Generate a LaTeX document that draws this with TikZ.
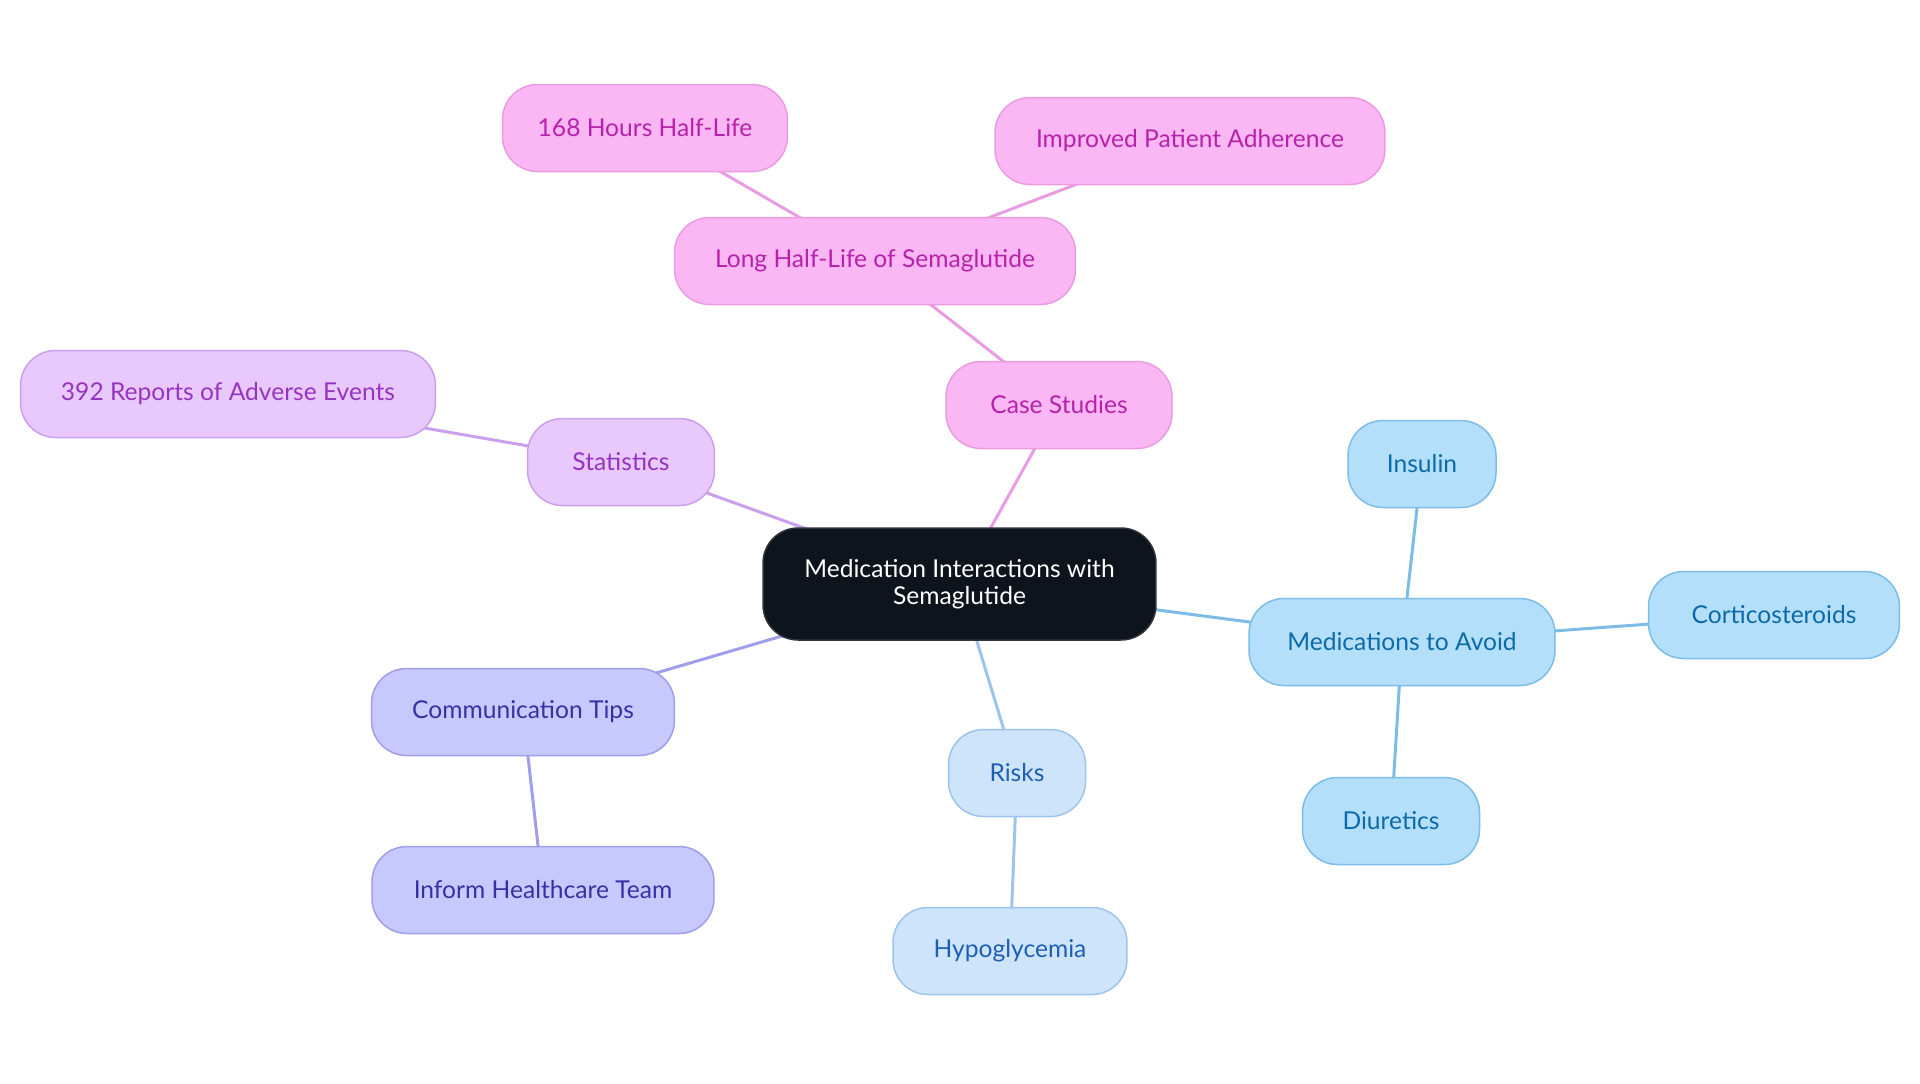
\documentclass[tikz,border=0pt]{standalone}
\usepackage{fontspec}
\setmainfont{Lato}
\usetikzlibrary{backgrounds}

\definecolor{pinkfill}{RGB}{251,182,244}
\definecolor{pinkline}{RGB}{234,156,226}
\definecolor{pinktext}{RGB}{182,34,170}
\definecolor{violetfill}{RGB}{233,201,253}
\definecolor{violetline}{RGB}{202,160,236}
\definecolor{violettext}{RGB}{148,52,192}
\definecolor{indigofill}{RGB}{199,200,253}
\definecolor{indigoline}{RGB}{160,158,234}
\definecolor{indigotext}{RGB}{56,48,163}
\definecolor{skyfill}{RGB}{205,228,251}
\definecolor{skyline}{RGB}{156,196,236}
\definecolor{skytext}{RGB}{30,95,180}
\definecolor{bluefill}{RGB}{179,223,251}
\definecolor{blueline}{RGB}{124,188,230}
\definecolor{bluetext}{RGB}{12,106,168}
\definecolor{rootfill}{RGB}{13,20,28}

\begin{document}
\begin{tikzpicture}[x=0.02cm, y=-0.02cm,
    idea/.style={rounded corners=0.7cm, line width=0.03cm, minimum height=1.74cm,
        inner xsep=0pt, align=center, font=\fontsize{14}{15.5}\selectfont},
    pinkbox/.style={idea, fill=pinkfill, draw=pinkline, text=pinktext},
    violetbox/.style={idea, fill=violetfill, draw=violetline, text=violettext},
    indigobox/.style={idea, fill=indigofill, draw=indigoline, text=indigotext},
    skybox/.style={idea, fill=skyfill, draw=skyline, text=skytext},
    bluebox/.style={idea, fill=bluefill, draw=blueline, text=bluetext},
    link/.style={line width=0.06cm}]

        \useasboundingbox (0,0) rectangle (1920,1083);

        % the root of the map
        \node[idea, fill=rootfill, draw=rootfill!70!gray, text=white, minimum width=7.86cm,
            minimum height=2.24cm] (root) at (959.5,584) {Medication Interactions with\\Semaglutide};

        % case studies branch
        \node[pinkbox, minimum width=4.52cm] (cases) at (1059,405) {Case Studies};
        \node[pinkbox, minimum width=8.02cm] (halflife) at (875,261) {Long Half-Life of Semaglutide};
        \node[pinkbox, minimum width=5.70cm] (hours) at (645,128) {168 Hours Half-Life};
        \node[pinkbox, minimum width=7.80cm] (adherence) at (1190,141) {Improved Patient Adherence};

        % statistics branch
        \node[violetbox, minimum width=3.74cm] (stats) at (621,462) {Statistics};
        \node[violetbox, minimum width=8.30cm] (reports) at (228,394) {392 Reports of Adverse Events};

        % communication branch
        \node[indigobox, minimum width=6.06cm] (comm) at (523,712) {Communication Tips};
        \node[indigobox, minimum width=6.84cm] (inform) at (543,890) {Inform Healthcare Team};

        % risks branch
        \node[skybox, minimum width=2.74cm] (risks) at (1017,773) {Risks};
        \node[skybox, minimum width=4.68cm] (hypo) at (1010,951) {Hypoglycemia};

        % medications branch
        \node[bluebox, minimum width=6.12cm] (avoid) at (1402,642) {Medications to Avoid};
        \node[bluebox, minimum width=2.96cm] (insulin) at (1422,464) {Insulin};
        \node[bluebox, minimum width=5.02cm] (cortico) at (1774,615) {Corticosteroids};
        \node[bluebox, minimum width=3.54cm] (diuretics) at (1391,821) {Diuretics};

        % draw the links behind the boxes, centre to centre
        \begin{scope}[on background layer]
            \draw[link, pinkline] (root.center) -- (cases.center);
            \draw[link, pinkline] (cases.center) -- (halflife.center);
            \draw[link, pinkline] (halflife.center) -- (hours.center);
            \draw[link, pinkline] (halflife.center) -- (adherence.center);
            \draw[link, violetline] (root.center) -- (stats.center);
            \draw[link, violetline] (stats.center) -- (reports.center);
            \draw[link, indigoline] (root.center) -- (comm.center);
            \draw[link, indigoline] (comm.center) -- (inform.center);
            \draw[link, skyline] (root.center) -- (risks.center);
            \draw[link, skyline] (risks.center) -- (hypo.center);
            \draw[link, blueline] (root.center) -- (avoid.center);
            \draw[link, blueline] (avoid.center) -- (insulin.center);
            \draw[link, blueline] (avoid.center) -- (cortico.center);
            \draw[link, blueline] (avoid.center) -- (diuretics.center);
        \end{scope}

    \end{tikzpicture}
\end{document}
